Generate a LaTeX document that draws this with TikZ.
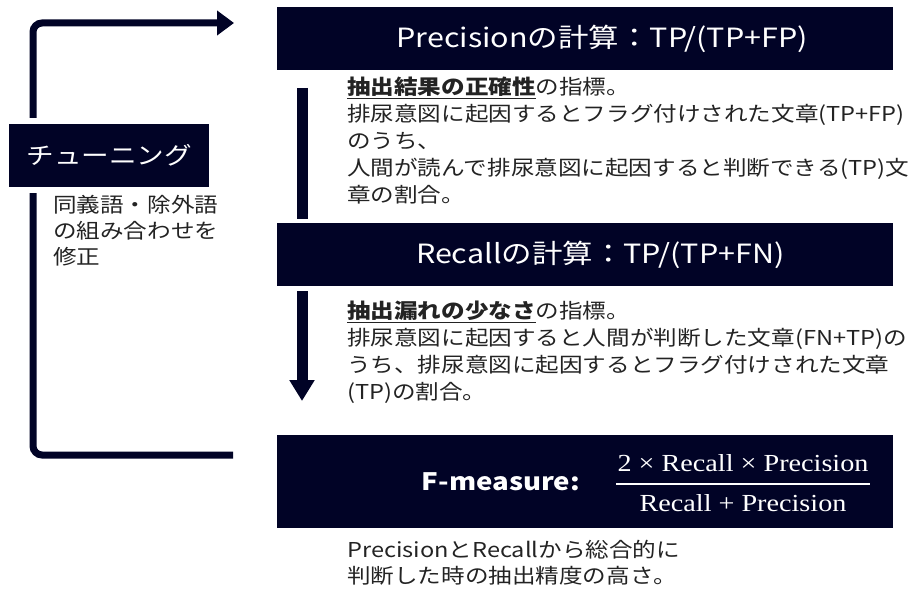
\documentclass[tikz,border=0pt]{standalone}
\usepackage{fontspec}
\usetikzlibrary{arrows.meta}
\newfontfamily\jp[FakeStretch=1.15]{Noto Sans CJK JP}
\newfontfamily\serifm[FakeStretch=1.15]{Liberation Serif}
\definecolor{navy}{RGB}{1,3,38}
\definecolor{ink}{RGB}{35,35,35}
\tikzset{
  hdr/.style={fill=navy, minimum width=616pt, minimum height=63pt, anchor=north west, inner sep=0pt,
    text=white, font=\jp\fontsize{26.5}{30}\selectfont},
  bodytext/.style={text=ink, align=left, anchor=north west, inner sep=0pt, font=\jp\fontsize{20.5}{27}\selectfont},
  barline/.style={draw=navy, line width=11pt},
  loopline/.style={draw=navy, line width=7pt, rounded corners=9pt},
  fractext/.style={text=white, inner sep=0pt, font=\serifm\fontsize{24.5}{28}\selectfont},
}
\begin{document}
\begin{tikzpicture}[x=1pt, y=-1pt]
\useasboundingbox (0,0) rectangle (911,591);
% coordinates
\coordinate (looptip) at (234,23);
\coordinate (loopend) at (233,455);
\coordinate (loopcorner) at (33,23);
\coordinate (pbartop) at (302,88);
\coordinate (pbarbot) at (302,219);
\coordinate (rarrtop) at (302,291);
\coordinate (rarrtip) at (302,401);
\coordinate (fracl) at (616,484);
\coordinate (fracr) at (870,484);
% loop
\draw[loopline, -{Triangle[width=24pt,length=17pt]}] (loopend) -| (loopcorner) -- (looptip);
% tuning box
\node[preaction={draw=white, line width=12pt}, fill=navy, minimum width=200pt, minimum height=63pt,
  inner sep=0pt, text=white, font=\jp\fontsize{24}{28}\selectfont, anchor=north west]
  (tune) at (9,124) {チューニング};
\node[bodytext, font=\jp\fontsize{20.5}{26}\selectfont] (tunenote) at (53,195) {同義語・除外語\\の組み合わせを\\修正};
% precision
\node[hdr] (prec) at (277,7) {\hspace*{34pt}Precisionの計算：TP/(TP+FP)};
\draw[barline] (pbartop) -- (pbarbot);
\node[bodytext] (prectext) at (347,77) {\textbf{\underline{抽出結果の正確性}}の指標。\\
排尿意図に起因するとフラグ付けされた文章(TP+FP)\\
のうち、\\
人間が読んで排尿意図に起因すると判断できる(TP)文\\
章の割合。};
% recall
\node[hdr] (rec) at (277,223) {\hspace*{30pt}Recallの計算：TP/(TP+FN)};
\draw[barline, -{Triangle[width=24pt,length=21pt]}] (rarrtop) -- (rarrtip);
\node[bodytext] (rectext) at (347,301) {\textbf{\underline{抽出漏れの少なさ}}の指標。\\
排尿意図に起因すると人間が判断した文章(FN+TP)の\\
うち、排尿意図に起因するとフラグ付けされた文章\\
(TP)の割合。};
% F-measure
\node[fill=navy, minimum width=616pt, minimum height=93pt, anchor=north west, inner sep=0pt] (fbox) at (277,435) {};
\node[text=white, font=\jp\bfseries\fontsize{24}{28}\selectfont, anchor=east, inner sep=0pt] (flabel) at (580,482) {F-measure:};
\node[fractext] (fnum) at (743,463) {2 × Recall × Precision};
\node[fractext] (fden) at (743,503) {Recall + Precision};
\draw[white, line width=1.4pt] (fracl) -- (fracr);
\node[bodytext, font=\jp\fontsize{20.5}{26}\selectfont] (ftext) at (347,540) {PrecisionとRecallから総合的に\\判断した時の抽出精度の高さ。};
\end{tikzpicture}
\end{document}
